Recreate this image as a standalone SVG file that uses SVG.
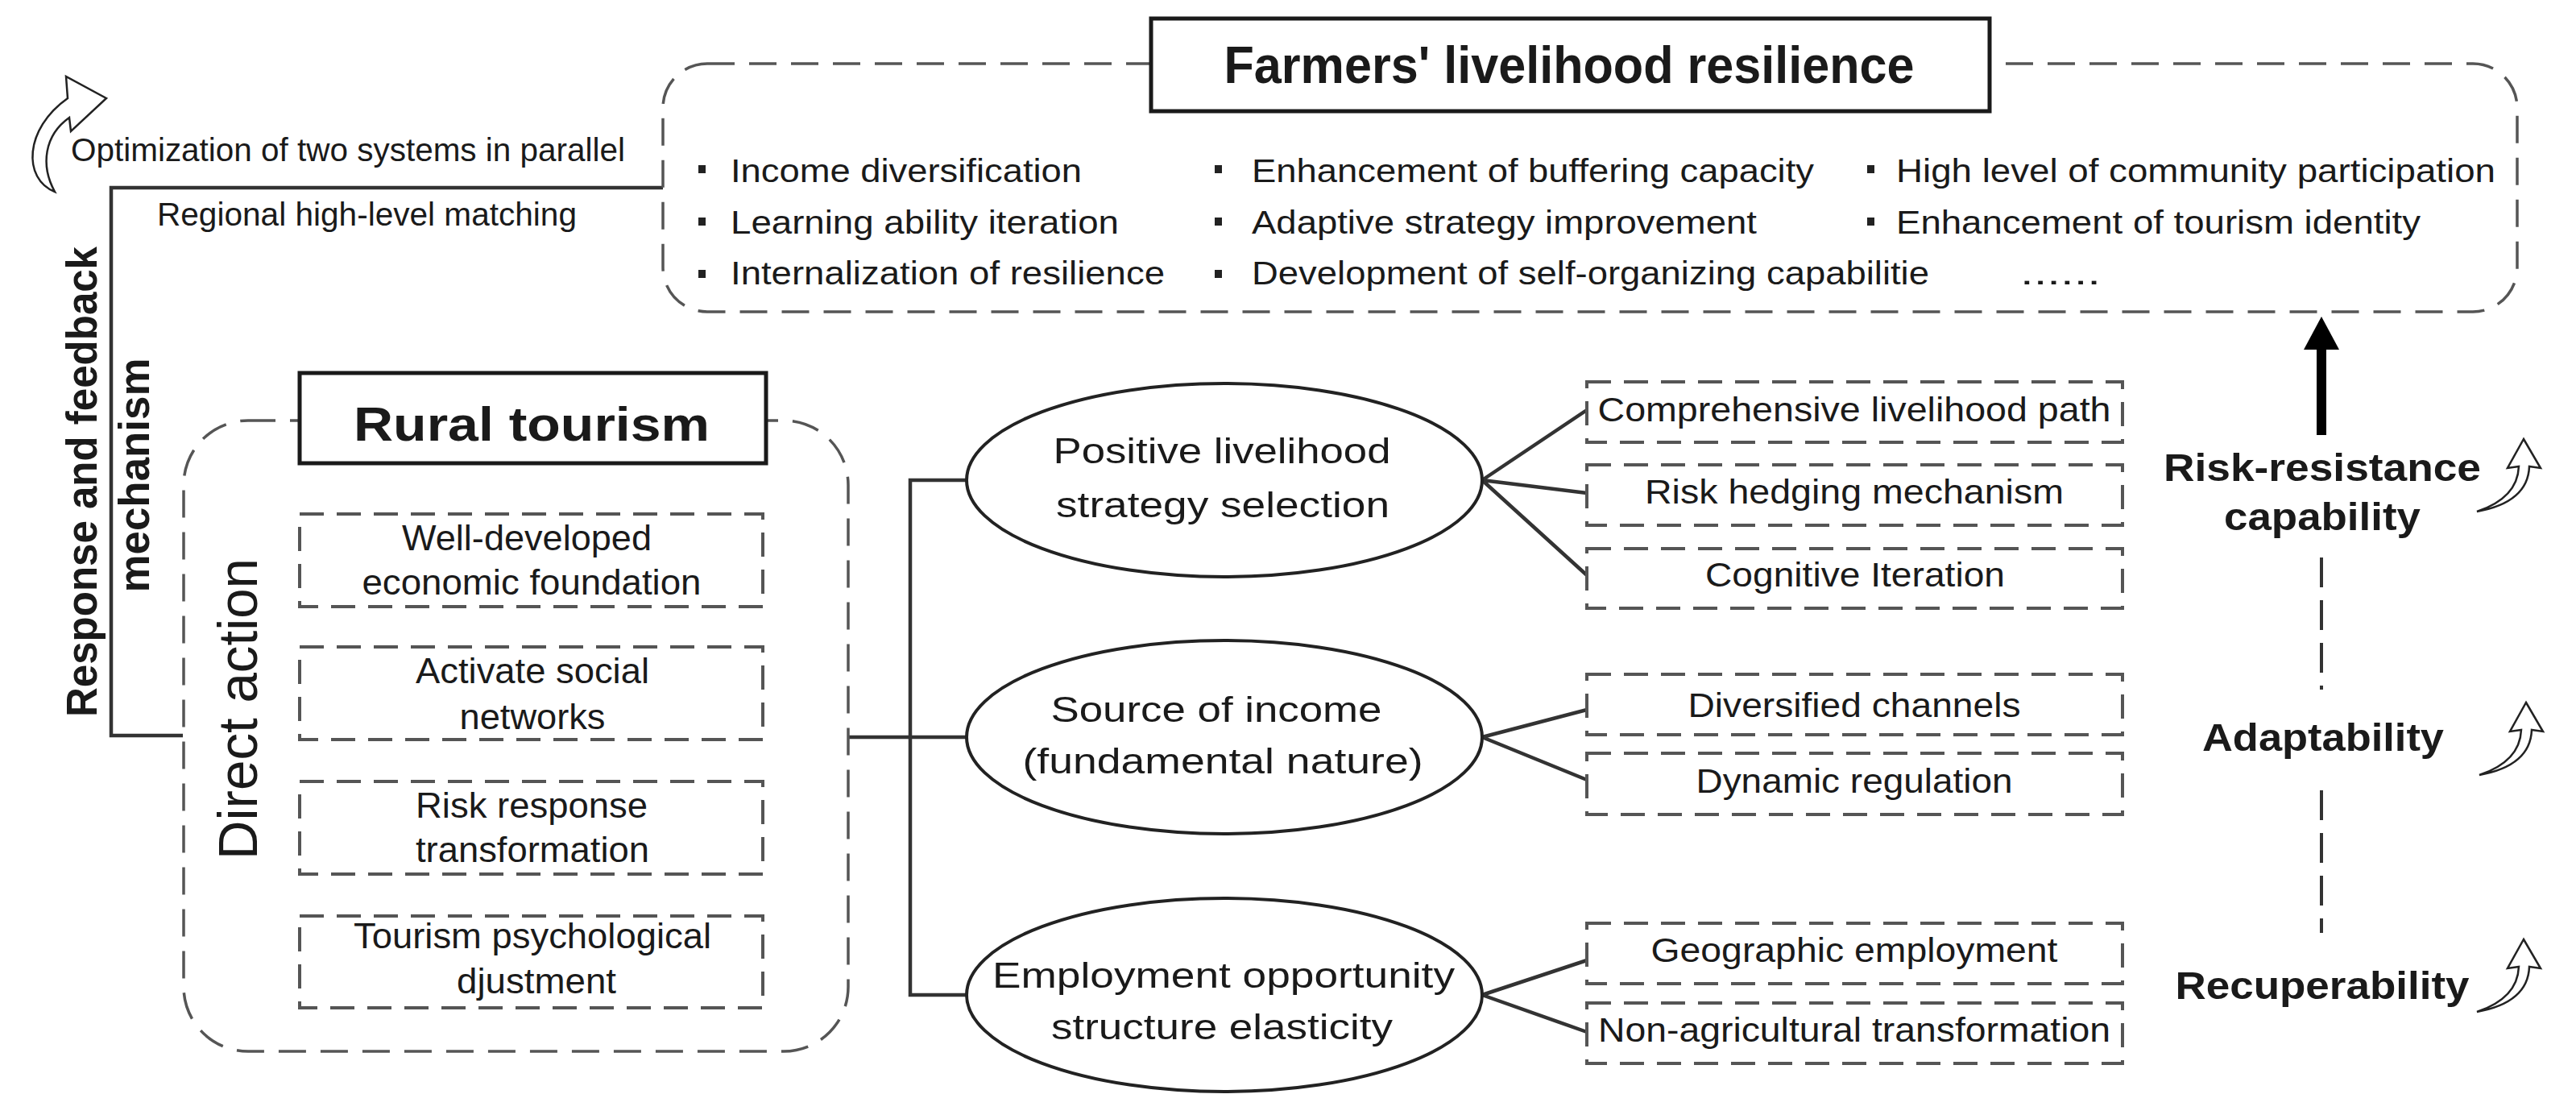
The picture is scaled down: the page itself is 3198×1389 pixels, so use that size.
<svg xmlns="http://www.w3.org/2000/svg" xmlns:xlink="http://www.w3.org/1999/xlink" width="3198" height="1389" viewBox="0 0 3198 1389">
<style>
text{font-family:"Liberation Sans",Arial,sans-serif;fill:#1a1a1a}
.t40{font-size:40px}
.t44{font-size:44px}
.t42{font-size:42px}
.b{font-weight:bold}
.c{text-anchor:middle}
.cont{fill:none;stroke:#555;stroke-width:3.5;stroke-dasharray:34 18}
.box{fill:#fff;stroke:#555;stroke-width:4;stroke-dasharray:30 16}
.title{fill:#fff;stroke:#1a1a1a;stroke-width:5}
.ell{fill:#fff;stroke:#222;stroke-width:4}
.ln{fill:none;stroke:#333;stroke-width:4.5}
.hol{fill:#fff;stroke:#222;stroke-width:2.5;stroke-linejoin:miter}
.bul{fill:#222}
</style>
<defs>
<path id="curvArrow" class="hol" d="M 0 0 L 21 36 L 7 34 C 6 62 -14 82 -58 90 C -22 78 -7 58 -6 34 L -20 36 Z"/>
</defs>

<g id="connectors">
<path class="ln" d="M 227 913 L 138 913 L 138 233 L 823 233"/>
<path class="ln" d="M 1053 915 L 1200 915"/>
<path class="ln" d="M 1200 596 L 1130 596 L 1130 1235 L 1200 1235"/>
<path class="ln" d="M 1840 596 L 1970 509 M 1840 596 L 1970 612 M 1840 596 L 1970 714"/>
<path class="ln" d="M 1840 915 L 1970 881 M 1840 915 L 1970 968"/>
<path class="ln" d="M 1840 1235 L 1970 1192 M 1840 1235 L 1970 1281"/>
<path d="M 2882 540 L 2882 430" stroke="#000" stroke-width="12" fill="none"/>
<polygon points="2882,393 2860,434 2904,434" fill="#000"/>
<path d="M 2882 692 L 2882 856 M 2882 981 L 2882 1158" stroke="#333" stroke-width="4" stroke-dasharray="37 16" fill="none"/>
</g>

<g id="feedback">
<path class="hol" stroke-width="3" d="M 68 238 C 28 222, 30 160, 84 122 L 82 95 L 132 122 L 88 163 L 86 146 C 55 168, 50 205, 68 238 Z"/>
<text class="t40" x="88" y="200" textLength="688" lengthAdjust="spacingAndGlyphs">Optimization of two systems in parallel</text>
<text class="t40" x="195" y="280" textLength="521" lengthAdjust="spacingAndGlyphs">Regional high-level matching</text>
<text class="b c" font-size="53" transform="translate(120,598) rotate(-90)" textLength="584" lengthAdjust="spacingAndGlyphs">Response and feedback</text>
<text class="b c" font-size="53" transform="translate(185,590) rotate(-90)" textLength="291" lengthAdjust="spacingAndGlyphs">mechanism</text>
</g>

<g id="resilience">
<rect class="cont" x="823" y="79" width="2302" height="308" rx="55" ry="55"/>
<rect class="title" x="1429" y="23" width="1041" height="115"/>
<text class="b c" font-size="64" x="1948" y="103" textLength="857" lengthAdjust="spacingAndGlyphs">Farmers' livelihood resilience</text>
<rect class="bul" x="867" y="205" width="9" height="10"/>
<rect class="bul" x="867" y="270" width="9" height="10"/>
<rect class="bul" x="867" y="335" width="9" height="10"/>
<rect class="bul" x="1508" y="205" width="9" height="10"/>
<rect class="bul" x="1508" y="270" width="9" height="10"/>
<rect class="bul" x="1508" y="335" width="9" height="10"/>
<rect class="bul" x="2318" y="205" width="9" height="10"/>
<rect class="bul" x="2318" y="270" width="9" height="10"/>
<text class="t40" x="907" y="226" textLength="436" lengthAdjust="spacingAndGlyphs">Income diversification</text>
<text class="t40" x="907" y="290" textLength="482" lengthAdjust="spacingAndGlyphs">Learning ability iteration</text>
<text class="t40" x="907" y="353" textLength="539" lengthAdjust="spacingAndGlyphs">Internalization of resilience</text>
<text class="t40" x="1554" y="226" textLength="698" lengthAdjust="spacingAndGlyphs">Enhancement of buffering capacity</text>
<text class="t40" x="1554" y="290" textLength="627" lengthAdjust="spacingAndGlyphs">Adaptive strategy improvement</text>
<text class="t40" x="1554" y="353" textLength="841" lengthAdjust="spacingAndGlyphs">Development of self-organizing capabilitie</text>
<text class="t40" x="2354" y="226" textLength="744" lengthAdjust="spacingAndGlyphs">High level of community participation</text>
<text class="t40" x="2354" y="290" textLength="651" lengthAdjust="spacingAndGlyphs">Enhancement of tourism identity</text>
<text class="t40" x="2508" y="353" textLength="100" lengthAdjust="spacingAndGlyphs">......</text>
</g>

<g id="rural-tourism">
<rect class="cont" x="228" y="522" width="825" height="783" rx="80" ry="80"/>
<rect class="title" x="372" y="463" width="579" height="112"/>
<text class="b c" font-size="60" x="660" y="547" textLength="442" lengthAdjust="spacingAndGlyphs">Rural tourism</text>
<text font-size="68" class="c" transform="translate(319,880) rotate(-90)" textLength="374" lengthAdjust="spacingAndGlyphs">Direct action</text>
</g>
<g id="ra-economic">
<rect class="box" x="372" y="638" width="575" height="115"/>
<text class="t44 c" x="654" y="683" textLength="310" lengthAdjust="spacingAndGlyphs">Well-developed</text>
<text class="t44 c" x="660" y="738" textLength="421" lengthAdjust="spacingAndGlyphs">economic foundation</text>
</g>
<g id="ra-social">
<rect class="box" x="372" y="803" width="575" height="115"/>
<text class="t44 c" x="661" y="848" textLength="290" lengthAdjust="spacingAndGlyphs">Activate social</text>
<text class="t44 c" x="661" y="905" textLength="181" lengthAdjust="spacingAndGlyphs">networks</text>
</g>
<g id="ra-risk">
<rect class="box" x="372" y="970" width="575" height="115"/>
<text class="t44 c" x="660" y="1015" textLength="288" lengthAdjust="spacingAndGlyphs">Risk response</text>
<text class="t44 c" x="661" y="1070" textLength="290" lengthAdjust="spacingAndGlyphs">transformation</text>
</g>
<g id="ra-psych">
<rect class="box" x="372" y="1137" width="575" height="114"/>
<text class="t44 c" x="661" y="1177" textLength="444" lengthAdjust="spacingAndGlyphs">Tourism psychological</text>
<text class="t44 c" x="666" y="1233" textLength="198" lengthAdjust="spacingAndGlyphs">djustment</text>
</g>

<g id="e-strategy">
<ellipse class="ell" cx="1520" cy="596" rx="320" ry="120"/>
<text class="t44 c" x="1517" y="575" textLength="419" lengthAdjust="spacingAndGlyphs">Positive livelihood</text>
<text class="t44 c" x="1518" y="642" textLength="414" lengthAdjust="spacingAndGlyphs">strategy selection</text>
</g>
<g id="e-income">
<ellipse class="ell" cx="1520" cy="915" rx="320" ry="120"/>
<text class="t44 c" x="1510" y="896" textLength="411" lengthAdjust="spacingAndGlyphs">Source of income</text>
<text class="t44 c" x="1518" y="960" textLength="497" lengthAdjust="spacingAndGlyphs">(fundamental nature)</text>
</g>
<g id="e-employment">
<ellipse class="ell" cx="1520" cy="1235" rx="320" ry="120"/>
<text class="t44 c" x="1519" y="1226" textLength="574" lengthAdjust="spacingAndGlyphs">Employment opportunity</text>
<text class="t44 c" x="1517" y="1290" textLength="424" lengthAdjust="spacingAndGlyphs">structure elasticity</text>
</g>

<g id="b-path"><rect class="box" x="1970" y="474" width="665" height="75"/><text class="t42 c" x="2302" y="523" textLength="637" lengthAdjust="spacingAndGlyphs">Comprehensive livelihood path</text></g>
<g id="b-hedging"><rect class="box" x="1970" y="577" width="665" height="75"/><text class="t42 c" x="2302" y="625" textLength="520" lengthAdjust="spacingAndGlyphs">Risk hedging mechanism</text></g>
<g id="b-cognitive"><rect class="box" x="1970" y="681" width="665" height="74"/><text class="t42 c" x="2303" y="728" textLength="372" lengthAdjust="spacingAndGlyphs">Cognitive Iteration</text></g>
<g id="b-channels"><rect class="box" x="1970" y="837" width="665" height="75"/><text class="t42 c" x="2302" y="890" textLength="413" lengthAdjust="spacingAndGlyphs">Diversified channels</text></g>
<g id="b-dynamic"><rect class="box" x="1970" y="935" width="665" height="76"/><text class="t42 c" x="2302" y="984" textLength="393" lengthAdjust="spacingAndGlyphs">Dynamic regulation</text></g>
<g id="b-geo"><rect class="box" x="1970" y="1146" width="665" height="75"/><text class="t42 c" x="2302" y="1194" textLength="505" lengthAdjust="spacingAndGlyphs">Geographic employment</text></g>
<g id="b-nonagri"><rect class="box" x="1970" y="1245" width="665" height="75"/><text class="t42 c" x="2302" y="1293" textLength="636" lengthAdjust="spacingAndGlyphs">Non-agricultural transformation</text></g>

<g id="levels">
<text class="b c" font-size="48" x="2883" y="597" textLength="394" lengthAdjust="spacingAndGlyphs">Risk-resistance</text>
<text class="b c" font-size="48" x="2883" y="658" textLength="244" lengthAdjust="spacingAndGlyphs">capability</text>
<text class="b c" font-size="48" x="2884" y="932" textLength="300" lengthAdjust="spacingAndGlyphs">Adaptability</text>
<text class="b c" font-size="48" x="2883" y="1240" textLength="365" lengthAdjust="spacingAndGlyphs">Recuperability</text>
<use xlink:href="#curvArrow" x="3133" y="545"/>
<use xlink:href="#curvArrow" x="3136" y="872"/>
<use xlink:href="#curvArrow" x="3133" y="1166"/>
</g>
</svg>
